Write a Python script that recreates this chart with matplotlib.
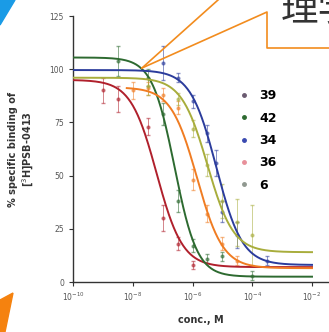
import numpy as np
import matplotlib.pyplot as plt
from matplotlib.patches import Polygon
from matplotlib.lines import Line2D

plt.rcParams['font.family'] = ['DejaVu Sans']

# --- данные: параметры кривых (4PL) и точки ---
labels = ['39', '42', '34', '36', '6']
colors = ['#b0202c', '#2d6a30', '#2b3c9c', '#f07c22', '#a8ad3c']
marker_colors = ['#6a5a70', '#2d6a30', '#3a4ab0', '#e8909a', '#909890']
tops = [95, 105.5, 99.6, 91.5, 96]
bottoms = [7, 2.5, 8, 6.5, 14]
log_ic50 = [-7.2, -6.6, -5.2, -5.85, -5.5]
hills = [1.0, 1.15, 1.0, 1.0, 1.0]
x_start = [-10, -10, -10, -8.2, -10]

pts_x = [
    [-9, -8.5, -7.5, -7, -6.5, -6],
    [-8.5, -7.5, -7, -6.5, -6, -5.5, -5, -4],
    [-7, -6.5, -6, -5.5, -5.2, -5, -4.5, -3.5],
    [-8, -7.5, -7, -6.5, -6, -5.5, -5, -4.5],
    [-7.5, -6.5, -6, -5.5, -5, -4.5, -4],
]
pts_y = [
    [90, 86, 73, 30, 18, 8],
    [104, 96, 79, 38, 17, 11, 12, 3],
    [103, 96, 85, 70, 56, 33, 22, 10],
    [90, 91, 88, 82, 48, 32, 18, 10],
    [92, 86, 72, 55, 38, 28, 22],
]
pts_err = [
    [6, 6, 4, 6, 3, 2],
    [7, 4, 5, 5, 3, 2, 2, 2],
    [8, 2, 3, 4, 6, 5, 6, 2],
    [4, 3, 3, 3, 5, 4, 3, 2],
    [4, 3, 4, 5, 8, 11, 14],
]

W, H = 329, 332
fig = plt.figure(figsize=(W / 100, H / 100), dpi=100)
ax = fig.add_axes([73 / W, 50 / H, (W - 73) / W, 266 / H])

for i in range(len(labels)):
    lx = np.linspace(x_start[i], -2, 300)
    ly = bottoms[i] + (tops[i] - bottoms[i]) / (1 + 10 ** ((lx - log_ic50[i]) * hills[i]))
    ax.plot(10 ** lx, ly, color=colors[i], lw=1.4, zorder=3)
    ax.errorbar(10 ** np.array(pts_x[i]), pts_y[i], yerr=pts_err[i], fmt='o', ms=2,
                color=colors[i], ecolor=colors[i], elinewidth=0.7, capsize=1.2,
                alpha=0.55, zorder=2)

ax.set_xscale('log')
ax.set_xlim(1e-10, 10 ** (-2 + 17 / 29.9))
ax.set_ylim(0, 125)
ax.set_xticks([1e-10, 1e-8, 1e-6, 1e-4, 1e-2])
ax.set_xticks([], minor=True)
ax.set_yticks([0, 25, 50, 75, 100, 125])
ax.tick_params(labelsize=5.5, labelcolor='#555555', length=3, width=0.8, color='#333333')
for s in ['top', 'right']:
    ax.spines[s].set_visible(False)
for s in ['left', 'bottom']:
    ax.spines[s].set_color('#333333')
    ax.spines[s].set_linewidth(1.0)
ax.set_xlabel('conc., M', fontsize=7, fontweight='bold', color='#333333', labelpad=8)
ax.set_ylabel('% specific binding of\n[$^3$H]PSB-0413', fontsize=7, fontweight='bold',
              color='#333333', labelpad=10)
ax.patch.set_alpha(0)

handles = [Line2D([], [], ls='none', marker='o', ms=2.5, color=c) for c in marker_colors]
fig.legend(handles, labels, loc='upper left', bbox_to_anchor=(228 / W, 1 - 78 / H),
           frameon=False, handlelength=0.8, handletextpad=0.8, labelspacing=0.75,
           prop={'size': 9, 'weight': 'bold', 'family': ['Liberation Sans Narrow', 'DejaVu Sans']})

# --- оформление слайда ---
def px(x, y):
    return (x / W, 1 - y / H)

fig.patches.append(Polygon([px(0, 0), px(15, 0), px(0, 25)], closed=True,
                           transform=fig.transFigure, color='#1a9be6', zorder=0))
fig.patches.append(Polygon([px(0, 300), px(13, 293), px(5, 332), px(0, 332)], closed=True,
                           transform=fig.transFigure, color='#f5820f', zorder=0))
orange = '#f28c1e'
fig.add_artist(Line2D([142 / W, 218 / W], [1 - 68 / H, 1.0], color=orange, lw=1.2,
                      transform=fig.transFigure))
fig.add_artist(Line2D([142 / W, 267 / W, 267 / W, 1.0],
                      [1 - 68 / H, 1 - 12 / H, 1 - 48 / H, 1 - 48 / H],
                      color=orange, lw=1.2, transform=fig.transFigure))
fig.text(281 / W, 1 - 21 / H, '理学', fontsize=27, color='#333333', va='baseline',
         family=['Noto Sans CJK SC', 'DejaVu Sans'])

plt.savefig('out.png', dpi=100)
